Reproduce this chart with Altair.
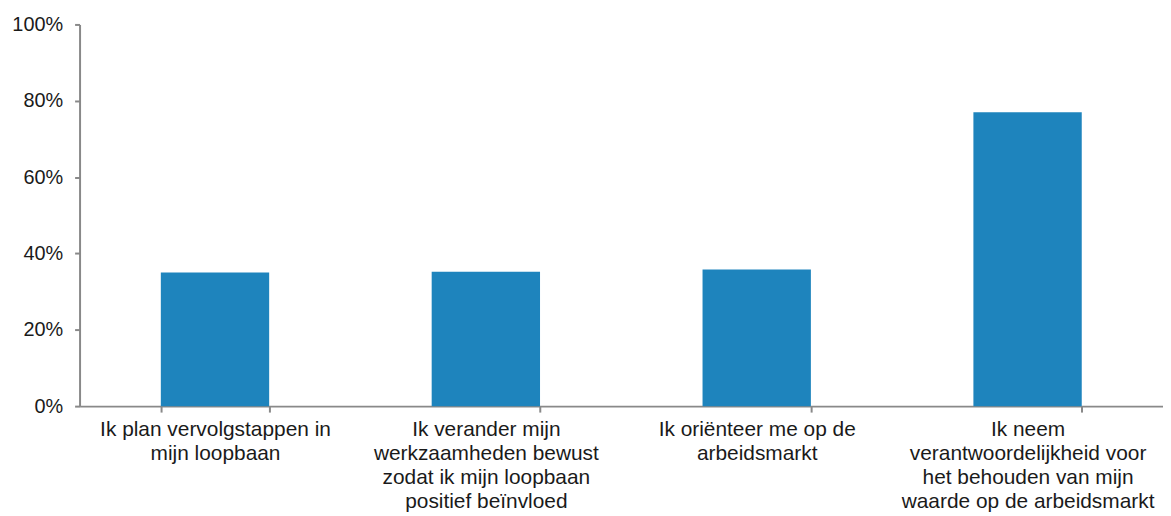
import altair as alt
import pandas as pd

categories = [
    ["Ik plan vervolgstappen in", "mijn loopbaan"],
    ["Ik verander mijn", "werkzaamheden bewust", "zodat ik mijn loopbaan", "positief beïnvloed"],
    ["Ik oriënteer me op de", "arbeidsmarkt"],
    ["Ik neem", "verantwoordelijkheid voor", "het behouden van mijn", "waarde op de arbeidsmarkt"],
]
values = [0.350, 0.352, 0.358, 0.770]

keys = ["|".join(c) for c in categories]
df = pd.DataFrame({"cat": keys, "value": values})

bars = alt.Chart(df).mark_bar(color="#1E84BD").encode(
    x=alt.X(
        "cat:N",
        sort=keys,
        title=None,
        scale=alt.Scale(paddingInner=0.6, paddingOuter=0.3),
        axis=alt.Axis(
            labelAngle=0,
            labelExpr="split(datum.label, '|')",
            labelFont="Liberation Sans",
            labelFontSize=21,
            labelLineHeight=24,
            labelColor="#1a1a1a",
            labelPadding=7,
            labelBaseline="top",
            domainColor="#898989",
            domainWidth=2,
            tickColor="#898989",
            tickWidth=2,
            tickSize=6,
            tickBand="extent",
            labelLimit=400,
        ),
    ),
    y=alt.Y(
        "value:Q",
        title=None,
        scale=alt.Scale(domain=[0, 1]),
        axis=alt.Axis(
            values=[0, 0.2, 0.4, 0.6, 0.8, 1.0],
            format=".0%",
            grid=False,
            labelFont="Liberation Sans",
            labelFontSize=20,
            labelColor="#1a1a1a",
            labelPadding=12,
            domainColor="#898989",
            domainWidth=2,
            tickColor="#898989",
            tickWidth=2,
            tickSize=5,
        ),
    ),
)

chart = bars.properties(
    width=1090,
    height=384,
    autosize=alt.AutoSizeParams(type="none"),
    padding={"left": 72, "top": 15, "right": 0, "bottom": 109},
).configure_view(stroke=None)

chart.save("out.html", embed_options={"renderer": "svg", "actions": False})
